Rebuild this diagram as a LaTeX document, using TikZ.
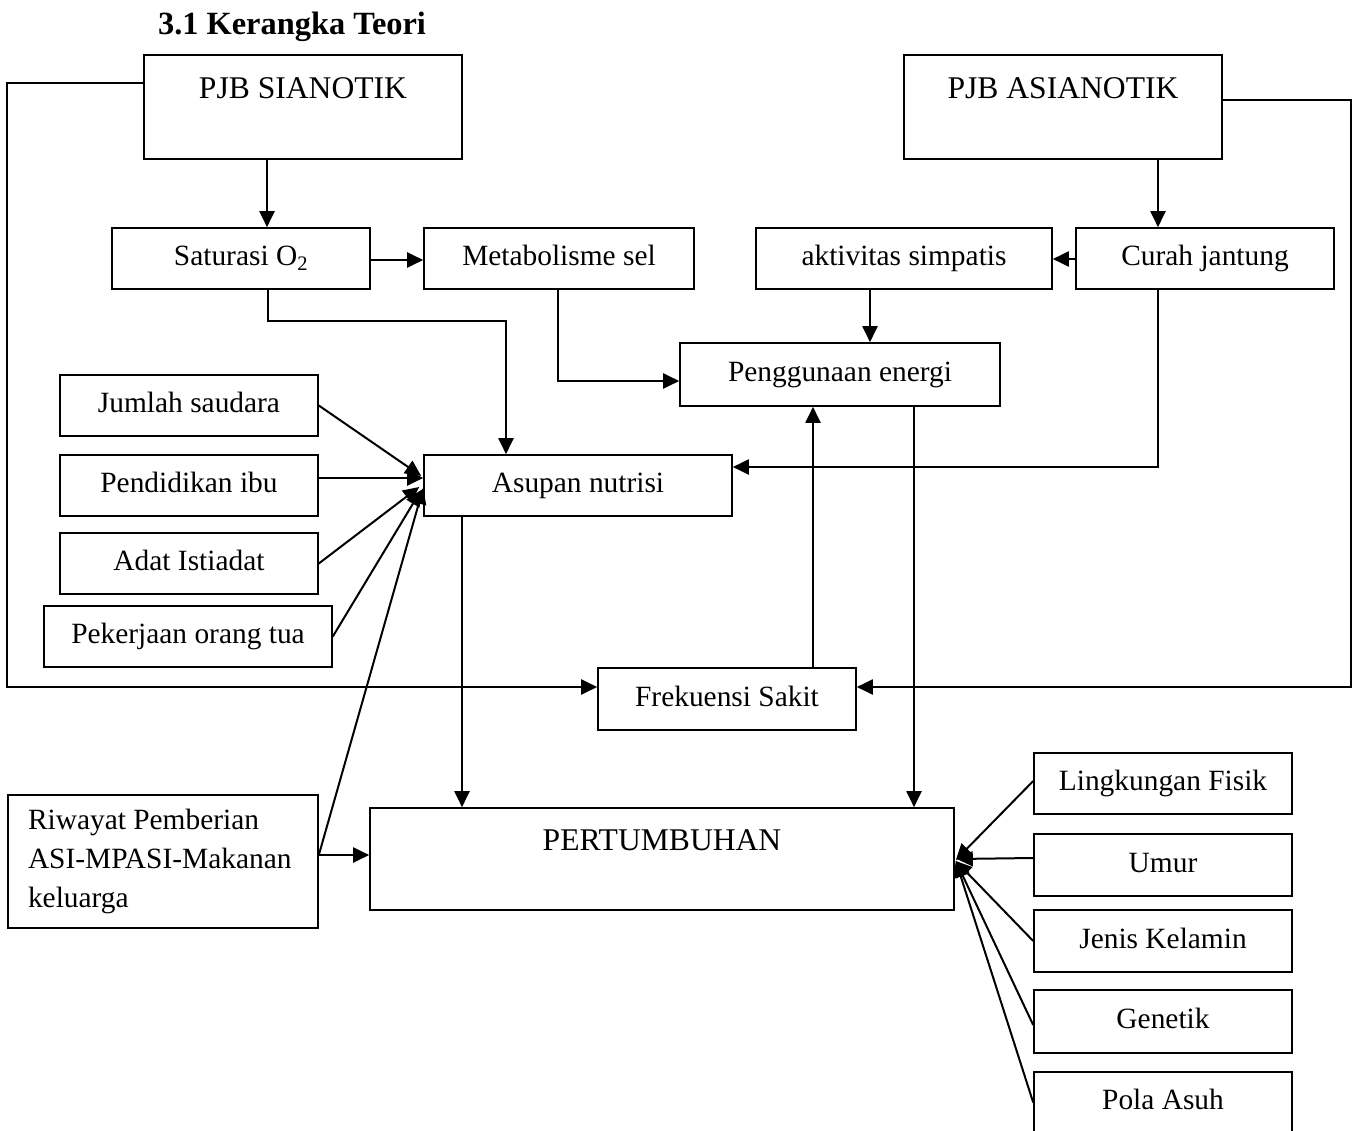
\documentclass[tikz,border=0pt]{standalone}
\usepackage{fontspec}
\setmainfont{Liberation Serif}
\usetikzlibrary{arrows.meta}
\begin{document}
\begin{tikzpicture}[x=1pt,y=-1pt,
  every node/.style={font=\fontsize{29.4}{39}\selectfont},
  box/.style={draw,line width=1.6pt,inner sep=0pt,minimum height=61pt,text height=20pt,text depth=6pt},
  bigbox/.style={draw,line width=1.6pt,inner sep=0pt,minimum width=318pt,minimum height=104pt},
  bigtext/.style={font=\fontsize{31.6}{38}\selectfont,inner sep=0pt},
  arr/.style={line width=2pt,-{Triangle[length=16pt,width=15pt]}}]
\useasboundingbox[fill=white] (0,0) rectangle (1357,1131);

\node[font=\fontsize{32.4}{38}\selectfont\bfseries] (title) at (292,27) {3.1 Kerangka Teori};

\node[bigbox] (pjbs) at (303,107) {};
\node[bigtext] (pjbsT) at (303,88) {PJB SIANOTIK};
\node[bigbox] (pjba) at (1063,107) {};
\node[bigtext] (pjbaT) at (1063,88) {PJB ASIANOTIK};

\node[box,minimum width=258pt] (sat) at (241,258.5) {Saturasi O\textsubscript{2}};
\node[box,minimum width=270pt] (met) at (559,258.5) {Metabolisme sel};
\node[box,minimum width=296pt] (akt) at (904,258.5) {aktivitas simpatis};
\node[box,minimum width=258pt] (cur) at (1205,258.5) {Curah jantung};
\node[box,minimum width=320pt,minimum height=63pt] (pen) at (840,374.5) {Penggunaan energi};
\node[box,minimum width=308pt] (asu) at (578,485.5) {Asupan nutrisi};

\node[box,minimum width=258pt] (jum) at (189,405.5) {Jumlah saudara};
\node[box,minimum width=258pt] (pend) at (189,485.5) {Pendidikan ibu};
\node[box,minimum width=258pt] (adat) at (189,563.5) {Adat Istiadat};
\node[box,minimum width=288pt] (pek) at (188,636.5) {Pekerjaan orang tua};

\node[box,minimum width=258pt,minimum height=62pt] (frek) at (727,699) {Frekuensi Sakit};

\node[draw,line width=1.6pt,inner sep=0pt,minimum width=310pt,minimum height=133pt,text width=270pt,align=flush left] (riw) at (163,861.5)
  {Riwayat Pemberian\\ASI-MPASI-Makanan\\keluarga};

\node[draw,line width=1.6pt,inner sep=0pt,minimum width=584pt,minimum height=102pt] (pert) at (662,859) {};
\node[bigtext] (pertT) at (662,840) {PERTUMBUHAN};

\node[box,minimum width=258pt] (ling) at (1163,783.5) {Lingkungan Fisik};
\node[box,minimum width=258pt,minimum height=62pt] (umur) at (1163,865) {Umur};
\node[box,minimum width=258pt,minimum height=62pt] (jen) at (1163,941) {Jenis Kelamin};
\node[box,minimum width=258pt,minimum height=63pt] (gen) at (1163,1021.5) {Genetik};
\node[box,minimum width=258pt] (pola) at (1163,1102.5) {Pola Asuh};

% top chain
\draw[arr] ([xshift=-36pt]pjbs.south) -- ([xshift=-36pt]pjbs.south |- sat.north);
\draw[arr] ([yshift=-1.5pt]sat.east) -- ([yshift=-1.5pt]met.west);
\draw[arr] ([xshift=95pt]pjba.south) -- ([xshift=95pt]pjba.south |- cur.north);
\draw[arr] ([yshift=-0.5pt]cur.west) -- ([yshift=-0.5pt]akt.east);
\draw[arr] ([xshift=-34pt]akt.south) -- ([xshift=-34pt]akt.south |- pen.north);
\draw[arr] ([xshift=-1pt]met.south) |- ([yshift=-6.5pt]pen.west);
\draw[arr] ([xshift=27pt]sat.south) -- ([xshift=27pt,yshift=-31pt]sat.south) -| ([xshift=-72pt]asu.north);
\draw[arr] ([xshift=-47pt]cur.south) |- ([yshift=18.5pt]asu.east);

% left factors into Asupan
\draw[arr] (jum.east) -- ([xshift=-2pt,yshift=9.5pt]asu.west);
\draw[arr] ([yshift=7.5pt]pend.east) -- ([yshift=7.5pt]asu.west);
\draw[arr] (adat.east) -- ([xshift=-4pt,yshift=-1.5pt]asu.west);
\draw[arr] (pek.east) -- ([xshift=-2pt,yshift=-4.5pt]asu.west);
\draw[arr] ([yshift=6.5pt]riw.east) -- ([yshift=-2.5pt]asu.west);

% loops into Frekuensi Sakit
\draw[arr] ([yshift=24pt]pjbs.west) -- ([xshift=-136pt,yshift=24pt]pjbs.west) |- ([yshift=12pt]frek.west);
\draw[arr] ([yshift=7pt]pjba.east) -- ([xshift=128pt,yshift=7pt]pjba.east) |- ([yshift=12pt]frek.east);

\draw[arr] ([xshift=86pt]frek.north) -- ([xshift=86pt]frek.north |- pen.south);
\draw[arr] ([xshift=74pt]pen.south) -- ([xshift=74pt]pen.south |- pert.north);
\draw[arr] ([xshift=-116pt]asu.south) -- ([xshift=-116pt]asu.south |- pert.north);
\draw[arr] ([yshift=6.5pt]riw.east) -- ([yshift=4pt]pert.west);

% right factors into Pertumbuhan
\draw[arr] ([yshift=2.5pt]ling.west) -- ([xshift=1pt,yshift=-1pt]pert.east);
\draw[arr] ([yshift=7pt]umur.west) -- ([xshift=2pt,yshift=0pt]pert.east);
\draw[arr] (jen.west) -- ([xshift=1pt,yshift=-2pt]pert.east);
\draw[arr] ([yshift=-3.5pt]gen.west) -- ([xshift=1pt,yshift=-2pt]pert.east);
\draw[arr] (pola.west) -- ([xshift=1pt,yshift=-2pt]pert.east);
\end{tikzpicture}
\end{document}
